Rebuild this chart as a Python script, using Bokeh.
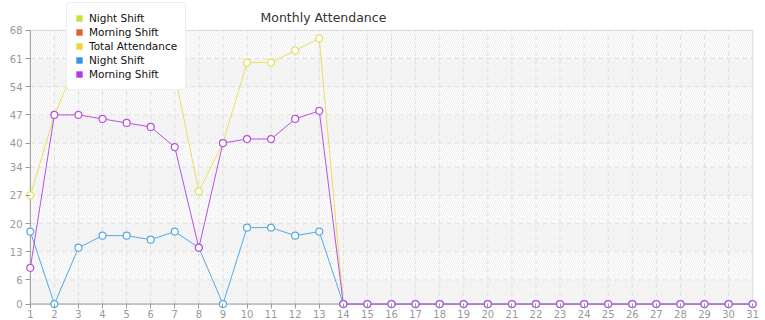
from bokeh.plotting import figure
from bokeh.models import Range1d, FixedTicker, Legend, LegendItem, Label
from bokeh.embed import file_html
from bokeh.resources import INLINE

# ---- data ----
days = list(range(1, 32))
night_shift = [18, 0, 14, 17, 17, 16, 18, 14, 0, 19, 19, 17, 18] + [0] * 18
morning_shift = [9, 47, 47, 46, 45, 44, 39, 14, 40, 41, 41, 46, 48] + [0] * 18
total_attendance = [27, 47, 61, 63, 62, 60, 57, 28, 40, 60, 60, 63, 66] + [0] * 18
y_ticks = [0, 6, 13, 20, 27, 34, 40, 47, 54, 61, 68]
legend_labels = ["Night Shift", "Morning Shift", "Total Attendance", "Night Shift", "Morning Shift"]
title_text = "Monthly Attendance"

# ---- styles ----
legend_colors = ["#c4e23a", "#e2622c", "#e6d83a", "#3496e0", "#b23be0"]
c_total, c_night, c_morning = "#e8de5a", "#55a9e4", "#b552e0"
FONT = "DejaVu Sans"

p = figure(width=765, height=320, output_backend="svg", toolbar_location=None,
           x_range=Range1d(days[0] - 0.2, days[-1] + 0.2),
           y_range=Range1d(y_ticks[0] - 1.1, y_ticks[-1] + 7.42),
           min_border_left=25, min_border_right=8, min_border_top=0, min_border_bottom=0)
p.outline_line_color = None
p.background_fill_color = "white"
p.border_fill_color = "white"
p.xgrid.visible = False
p.ygrid.visible = False

# alternating hatched bands
bb, bt, bc = [], [], []
for i in range(len(y_ticks) - 1):
    bb.append(y_ticks[i])
    bt.append(y_ticks[i + 1])
    bc.append("#f8f8f8" if i % 2 == 0 else "#ffffff")
bands = p.quad(left=[days[0]] * len(bb), right=[days[-1]] * len(bb), bottom=bb, top=bt,
               fill_color=bc, line_color=None, hatch_pattern="/", hatch_color="#eeeeee",
               hatch_scale=4, hatch_weight=1)
bands.level = "image"

# dashed grid
p.segment(x0=days, x1=days, y0=[y_ticks[0]] * len(days), y1=[y_ticks[-1]] * len(days),
          line_color="#e0e0e0", line_dash="5 3", line_width=1, level="underlay")
p.segment(x0=[days[0]] * len(y_ticks), x1=[days[-1]] * len(y_ticks), y0=y_ticks, y1=y_ticks,
          line_color="#e0e0e0", line_dash="5 3", line_width=1, level="underlay")

# borders
p.line([days[0], days[-1]], [y_ticks[-1]] * 2, line_color="#dddddd", line_width=1)
p.line([days[-1]] * 2, [y_ticks[0], y_ticks[-1]], line_color="#dddddd", line_width=1)
# axis lines
p.line([days[0]] * 2, [y_ticks[0], y_ticks[-1]], line_color="#9a9a9a", line_width=1)
p.line([days[0], days[-1]], [y_ticks[0]] * 2, line_color="#9a9a9a", line_width=1)

# axes
for ax, ticks in ((p.xaxis, days), (p.yaxis, y_ticks)):
    ax.ticker = FixedTicker(ticks=ticks)
    ax.axis_line_color = None
    ax.major_tick_line_color = "#9a9a9a"
    ax.major_tick_in = 5
    ax.major_tick_out = 0
    ax.minor_tick_line_color = None
    ax.major_label_text_font = FONT
    ax.major_label_text_font_size = "10px"
    ax.major_label_text_color = "#999999"
p.yaxis.major_label_standoff = 3
p.xaxis.major_label_standoff = 1

# series
for vals, col in ((total_attendance, c_total), (night_shift, c_night), (morning_shift, c_morning)):
    p.line(days, vals, line_color=col, line_width=1)
    p.scatter(days, vals, size=7, fill_color="white", line_color=col, line_width=1.2)

# title
p.add_layout(Label(x=235, y=291, x_units="screen", y_units="screen", text=title_text,
                   text_font=FONT, text_font_size="12.5px", text_color="#333333",
                   text_baseline="middle", text_align="left"))

# legend (swatches)
nan = float("nan")
items = []
for lab, col in zip(legend_labels, legend_colors):
    r = p.quad(left=[nan], right=[nan], top=[nan], bottom=[nan], fill_color=col, line_color=None)
    items.append(LegendItem(label=lab, renderers=[r]))
legend = Legend(items=items, location=(41, 218), label_text_font=FONT,
                label_text_font_size="10.5px", label_text_color="#111111",
                label_height=14, glyph_height=8, glyph_width=8, label_standoff=6,
                spacing=0, padding=8, margin=0, border_line_color="#dddddd",
                border_line_width=1, background_fill_color="white", background_fill_alpha=1,
                border_radius=4)
p.add_layout(legend)

open("out.html", "w").write(file_html(p, INLINE))
